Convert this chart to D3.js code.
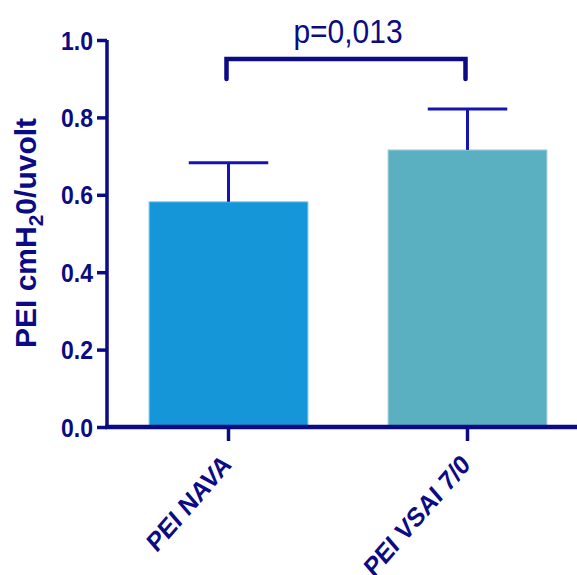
<!DOCTYPE html>
<html><head><meta charset="utf-8">
<script src="https://cdn.jsdelivr.net/npm/d3@7"></script>
<style>html,body{margin:0;padding:0;background:#fff;} svg{display:block;} text{font-family:"Liberation Sans",Arial,sans-serif;}</style>
</head><body>
<svg id="c" width="577" height="575"></svg>
<script>
const categories = ["PEI NAVA", "PEI VSAI 7/0"];
const means = [0.582, 0.716];
const errors = [0.101, 0.106];
const barColors = ["#1596d8", "#5aafc0"];
const yTicks = [0.0, 0.2, 0.4, 0.6, 0.8, 1.0];
const pLabel = "p=0,013";

const navy = "#0b0b85";
const errColor = "#1414b4";
const svg = d3.select("#c");
const axisX = 107, baseY = 427, topY = 40;

const y = d3.scaleLinear().domain([0, 1]).range([baseY, topY]);
const x = d3.scaleBand().domain(categories).range([109, 587]).paddingInner(0.335).paddingOuter(0.1675);

// bars
svg.selectAll("rect.bar").data(categories).join("rect")
  .attr("x", d => x(d)).attr("width", x.bandwidth())
  .attr("y", (d, i) => y(means[i])).attr("height", (d, i) => y(0) - y(means[i]))
  .attr("fill", (d, i) => barColors[i])
  .attr("stroke", (d, i) => i === 0 ? "#8cd0f2" : "#a9d6df").attr("stroke-width", 1);

// error bars
const eg = svg.append("g").attr("stroke", errColor).attr("stroke-width", 3).attr("fill", "none");
categories.forEach((c, i) => {
  const cx = x(c) + x.bandwidth() / 2;
  eg.append("line").attr("x1", cx).attr("x2", cx).attr("y1", y(means[i])).attr("y2", y(means[i] + errors[i]));
  eg.append("line").attr("x1", cx - x.bandwidth() / 4).attr("x2", cx + x.bandwidth() / 4)
    .attr("y1", y(means[i] + errors[i])).attr("y2", y(means[i] + errors[i]));
});

// y axis
const yAxis = d3.axisLeft(y).tickValues(yTicks).tickFormat(d3.format(".1f")).tickSize(10).tickPadding(4);
const yg = svg.append("g").attr("transform", `translate(${axisX},0)`).call(yAxis);
yg.select(".domain").attr("stroke", navy).attr("stroke-width", 3.5).attr("d", `M0,${topY}V${baseY + 2}`);
yg.selectAll(".tick line").attr("stroke", navy).attr("stroke-width", 3.5);
yg.selectAll(".tick text").attr("fill", navy).attr("font-size", 23).attr("font-weight", "bold")
  .attr("dy", "0.36em")
  .attr("transform", "scale(1,1.1)");

// x axis
const xAxis = d3.axisBottom(x).tickSize(14).tickPadding(0).tickFormat("");
const xg = svg.append("g").attr("transform", `translate(0,${baseY})`).call(xAxis);
xg.select(".domain").attr("stroke", navy).attr("stroke-width", 4.5).attr("d", `M${axisX - 1.75},0H577`);
xg.selectAll(".tick line").attr("stroke", navy).attr("stroke-width", 3.5);
xg.selectAll(".tick").append("text")
  .attr("fill", navy).attr("font-size", 23.5).attr("font-weight", "bold")
  .attr("text-anchor", "end")
  .attr("transform", "translate(4,39) scale(1,1.15) rotate(-45)")
  .text(d => d);

// y title
svg.append("text")
  .attr("transform", "translate(36,233) rotate(-90)")
  .attr("text-anchor", "middle").attr("fill", navy)
  .attr("font-size", 30).attr("font-weight", "bold")
  .call(t => {
    t.append("tspan").text("PEI cmH");
    t.append("tspan").attr("font-size", 21).attr("dy", 7).text("2");
    t.append("tspan").attr("dy", -7).text("0/uvolt");
  });

// significance bracket
const c0 = x(categories[0]) + x.bandwidth() / 2 - 2;
const c1 = x(categories[1]) + x.bandwidth() / 2 - 2;
svg.append("path")
  .attr("d", `M${c0},79V59H${c1}V79`)
  .attr("fill", "none").attr("stroke", navy).attr("stroke-width", 4.5)
  .attr("stroke-linejoin", "miter").attr("stroke-linecap", "round");
svg.append("text")
  .attr("transform", `translate(${(c0 + c1) / 2 + 2},43) scale(1,1.1)`)
  .attr("text-anchor", "middle").attr("fill", navy).attr("font-size", 30)
  .text(pLabel);
</script>
</body></html>
